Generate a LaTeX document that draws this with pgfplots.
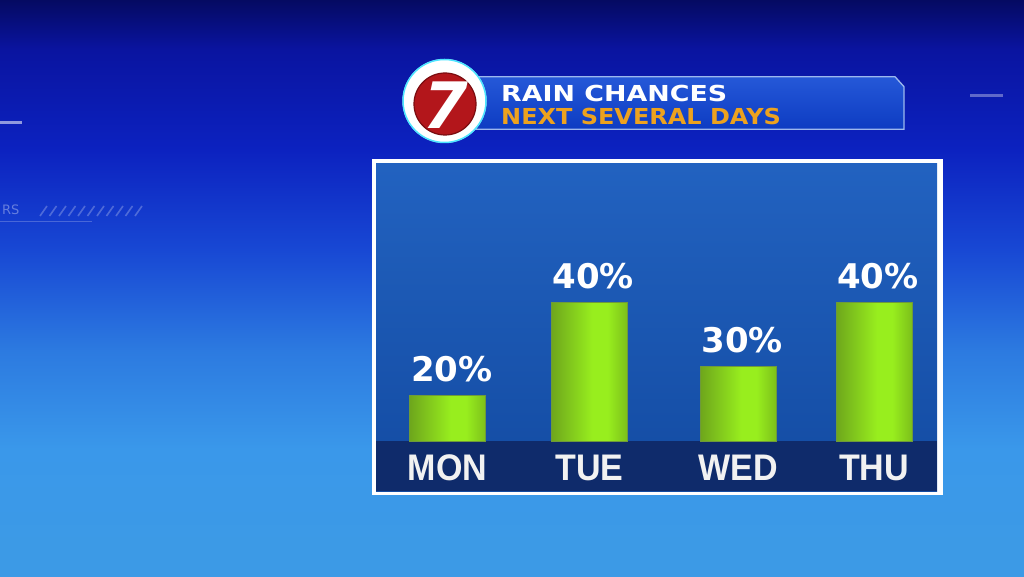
\documentclass[border=0pt]{standalone}
\usepackage{pgfplots}
\pgfplotsset{compat=1.18}
\usepackage{pgfplotstable}
\usepackage{graphicx}
\usepackage{fontspec}
\setmainfont{DejaVu Sans}
\newfontfamily\libsans{Liberation Sans}

\definecolor{bgA}{HTML}{050A62}
\definecolor{bgB}{HTML}{0A14A0}
\definecolor{bgC}{HTML}{0C22C0}
\definecolor{bgD}{HTML}{1848D4}
\definecolor{bgE}{HTML}{2C7AE0}
\definecolor{bgF}{HTML}{3A98EA}
\definecolor{bgG}{HTML}{3C9AE6}
\definecolor{panelTop}{HTML}{2262C0}
\definecolor{panelBot}{HTML}{134BA2}
\definecolor{band}{HTML}{0F2B6B}
\definecolor{barL}{HTML}{6EA61C}
\definecolor{barM}{HTML}{98EE1E}
\definecolor{barR}{HTML}{7CC01A}
\definecolor{barEdge}{HTML}{6E9A3A}
\definecolor{gold}{HTML}{EDA21E}
\definecolor{bannerTop}{HTML}{2558D8}
\definecolor{bannerBot}{HTML}{0D3CC2}
\definecolor{bannerEdge}{HTML}{9CB8EE}
\definecolor{logoRed}{HTML}{B3161B}
\definecolor{logoDark}{HTML}{7A0C10}
\definecolor{dayWhite}{HTML}{F2F2F2}

\pgfdeclareverticalshading{bgsh}{100bp}{%
  color(0bp)=(bgG); color(25bp)=(bgG); color(27.3bp)=(bgG); color(36bp)=(bgF);
  color(44.6bp)=(bgE); color(53.3bp)=(bgD); color(62bp)=(bgC); color(70.7bp)=(bgB);
  color(75bp)=(bgA); color(100bp)=(bgA)}
\pgfdeclareverticalshading{panelsh}{100bp}{%
  color(0bp)=(panelBot); color(25bp)=(panelBot); color(75bp)=(panelTop); color(100bp)=(panelTop)}
\pgfdeclarehorizontalshading{barsh}{100bp}{%
  color(0bp)=(barL); color(25bp)=(barL); color(52bp)=(barM); color(62bp)=(barM);
  color(75bp)=(barR); color(100bp)=(barR)}

% x: bar centre (px), h: drawn bar height (px), pct: rain chance in percent
\pgfplotstableread{
x      h     pct
447.7  46.0  20
589.3  139.0 40
738.3  74.5  30
874.0  139.0 40
}\raindata

\begin{document}
\begin{tikzpicture}[x=1pt,y=1pt]
\useasboundingbox (0,0) rectangle (1024,576);
\clip (0,0) rectangle (1024,576);
% background
\shade[shading=bgsh] (0,0) rectangle (1024,576);
% faint decorations
\fill[white, opacity=0.55] (0,452) rectangle (22,454.5);
\fill[white, opacity=0.35] (970,479) rectangle (1003,481.5);
\node[anchor=base west, text=white, opacity=0.35, inner sep=0pt] at (2,361) {\fontsize{13}{13}\selectfont RS};
\foreach \i in {0,...,10} {
  \draw[white, opacity=0.25, line width=1.6] (40+\i*9.5,360) -- (47+\i*9.5,370);
}
\draw[white, opacity=0.22, line width=1] (0,354) -- (92,354);
% panel
\fill[white] (372,81) rectangle (942.5,416.5);
\shade[shading=panelsh] (376,85) rectangle (937,412);
\fill[band] (376,85) rectangle (937,135);
% header banner
\shade[top color=bannerTop, bottom color=bannerBot, draw=bannerEdge, line width=1.3]
  (476,499.3) -- (895,499.3) -- (904,489.3) -- (904,446.7) -- (476,446.7) -- cycle;
\node[anchor=base west, inner sep=0pt, text=white] at (501,474.3)
  {\scalebox{1.22}[1]{\fontsize{22}{22}\selectfont\bfseries RAIN CHANCES}};
\node[anchor=base west, inner sep=0pt, text=gold] at (501,451.7)
  {\scalebox{1.09}[1]{\fontsize{22}{22}\selectfont\bfseries NEXT SEVERAL DAYS}};
% logo
\fill[white] (444.5,475) circle (42);
\draw[white!75!blue!40!cyan, line width=1.5] (444.5,475) circle (41.5);
\fill[logoRed] (445,472) circle (31);
\draw[logoDark, line width=1.2] (445,472) circle (31);
\node[text=white, xslant=0.22, inner sep=0pt] at (446,471)
  {\fontsize{64}{64}\selectfont\bfseries 7};

\begin{axis}[
  at={(376,135)}, anchor=south west,
  scale only axis, width=561pt, height=277pt,
  xmin=376, xmax=937, ymin=0, ymax=277,
  axis line style={draw=none},
  ytick=\empty,
  xtick={447.7,589.3,738.3,874.0},
  major tick length=0pt,
  xticklabels={MON,TUE,WED,THU},
  xticklabel style={anchor=base, yshift=-39pt, text=dayWhite, xscale=0.92,
    font=\libsans\bfseries\fontsize{37}{37}\selectfont},
  ybar, bar width=76, bar shift=0pt,
  clip=false,
  point meta=explicit symbolic,
  nodes near coords={\pgfplotspointmeta\%},
  every node near coord/.append style={anchor=base, inner sep=0pt, yshift=13.6pt,
    xshift=4pt, text=white, font=\bfseries\fontsize{34}{34}\selectfont},
]
\pgfplotsinvokeforeach{0,1,2,3}{
  \addplot[draw=barEdge, line width=0.6pt, shading=barsh,
    restrict expr to domain={\coordindex}{#1:#1}]
    table[x=x, y=h, meta=pct] {\raindata};
}
\end{axis}
\end{tikzpicture}
\end{document}
